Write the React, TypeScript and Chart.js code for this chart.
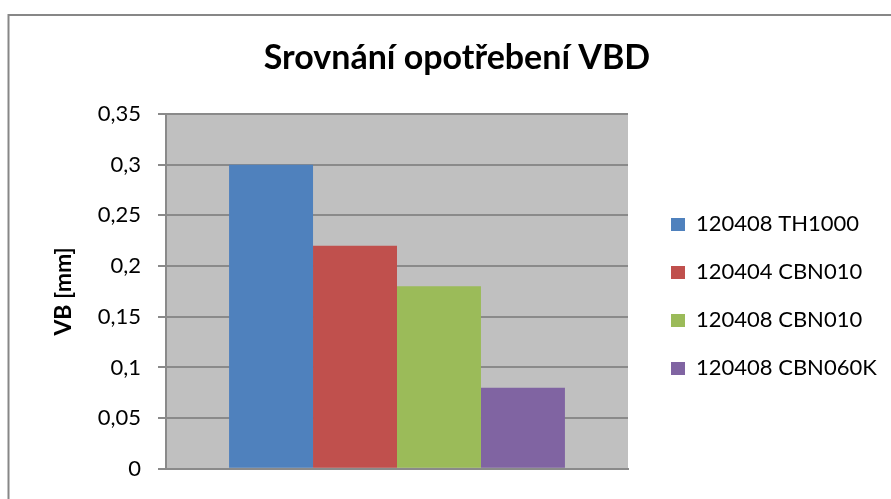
import React, { useEffect, useRef } from "react";
import { Chart, registerables } from "chart.js";

Chart.register(...registerables);

const categories = [""];
const seriesNames = ["120408 TH1000", "120404 CBN010", "120408 CBN010", "120408 CBN060K"];
const seriesValues = [0.3, 0.22, 0.18, 0.08];
const seriesColors = ["#4F81BD", "#C0504D", "#9BBB59", "#8064A2"];
const chartTitle = "Srovnání opotřebení VBD";
const yAxisTitle = "VB [mm]";
const yMin = 0;
const yMax = 0.35;
const yStep = 0.05;

const FONT = "Lato, 'Open Sans', sans-serif";
const GRID = "#8a8a8a";

// layout geometry
const W = 891;
const H = 499;
const PAD_L = -50;
const PAD_R = -73;
const AREA_LEFT = 166;
const AREA_RIGHT = 628;
const LEGEND_GAP = 17;

const framePlugin = {
  id: "frame",
  beforeDraw(chart: any) {
    const { ctx, chartArea } = chart;
    ctx.save();
    ctx.fillStyle = "#ffffff";
    ctx.fillRect(0, 0, chart.width, chart.height);
    ctx.strokeStyle = "#878787";
    ctx.lineWidth = 2;
    ctx.beginPath();
    ctx.moveTo(8.5, chart.height + 4);
    ctx.lineTo(8.5, 15);
    ctx.lineTo(chart.width + 4, 15);
    ctx.stroke();
    ctx.fillStyle = "#C0C0C0";
    ctx.fillRect(
      chartArea.left,
      chartArea.top,
      chartArea.right - chartArea.left,
      chartArea.bottom - chartArea.top
    );
    ctx.restore();
  },
};

const hiddenAxis = (weight: number, widthFn: (s: any) => number) => ({
  type: "linear",
  position: "right",
  display: false,
  weight,
  afterFit: (s: any) => {
    s.width = widthFn(s);
  },
});

export default function App() {
  const canvasRef = useRef<HTMLCanvasElement | null>(null);

  useEffect(() => {
    if (!canvasRef.current) return;
    const chart = new Chart(canvasRef.current, {
      type: "bar",
      data: {
        labels: categories,
        datasets: seriesNames.map((name, i) => ({
          label: name,
          data: [seriesValues[i]],
          backgroundColor: seriesColors[i],
          borderWidth: 0,
          categoryPercentage: 0.727,
          barPercentage: 1,
        })),
      },
      options: {
        responsive: false,
        animation: false,
        layout: { padding: { left: PAD_L, top: 15, right: PAD_R, bottom: 22 } },
        plugins: {
          title: {
            display: true,
            text: chartTitle,
            color: "#000",
            font: { family: FONT, size: 34, weight: "bold" },
            padding: { top: 22.6, bottom: 35.6 },
          },
          legend: {
            display: true,
            position: "right",
            fullSize: false,
            title: {
              display: true,
              text: "",
              font: { size: 1 },
              padding: { top: 4.4, bottom: 4.4 },
            },
            labels: {
              boxWidth: 14,
              boxHeight: 13,
              padding: 26,
              color: "#000",
              font: { family: FONT, size: 22 },
            },
          },
          tooltip: { enabled: false },
        },
        scales: {
          x: {
            display: true,
            grid: { display: false, drawTicks: false },
            border: { display: true, color: GRID, width: 2 },
            ticks: { display: false },
          },
          y: {
            min: yMin,
            max: yMax,
            ticks: {
              stepSize: yStep,
              color: "#000",
              padding: 17,
              font: { family: FONT, size: 22 },
              callback: (v: any) => String(Math.round(Number(v) * 100) / 100).replace(".", ","),
            },
            grid: { color: GRID, lineWidth: 2, tickLength: 8, drawTicks: true },
            border: { color: GRID, width: 2 },
            title: {
              display: true,
              text: yAxisTitle,
              color: "#000",
              font: { family: FONT, size: 23, weight: "bold" },
              padding: { top: 63.5 - PAD_L - 13.8, bottom: 0 },
            },
            afterFit: (s: any) => {
              s.width = AREA_LEFT - PAD_L;
            },
          },
          gap: hiddenAxis(0, () => LEGEND_GAP),
          filler: hiddenAxis(2000, (s: any) => {
            const lw = (s.chart.legend && s.chart.legend.width) || 0;
            return Math.max(0, W - PAD_R - AREA_RIGHT - LEGEND_GAP - lw);
          }),
        },
      },
      plugins: [framePlugin],
    } as any);
    return () => chart.destroy();
  }, []);

  return (
    <div style={{ position: "absolute", left: 0, top: 0, width: W, height: H, background: "#fff" }}>
      <canvas ref={canvasRef} width={W} height={H} />
    </div>
  );
}
